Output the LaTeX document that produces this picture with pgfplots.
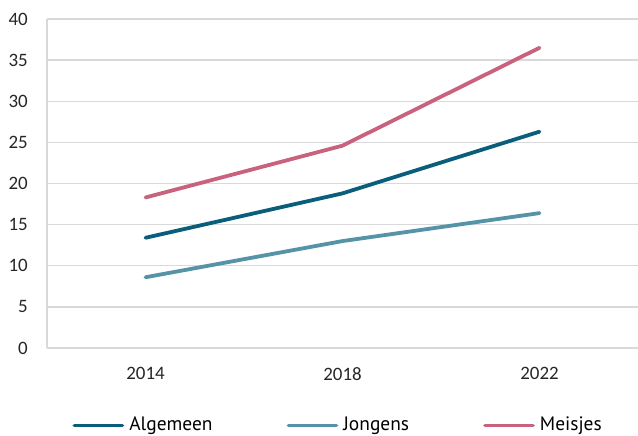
\documentclass[border=0pt]{standalone}
\usepackage{fontspec}
\setmainfont{Carlito}
\newfontfamily\legfont{PT Sans}
\usepackage{pgfplots}
\pgfplotsset{compat=1.18}
\definecolor{cAlg}{HTML}{0B5E7B}
\definecolor{cJon}{HTML}{5593A6}
\definecolor{cMei}{HTML}{C9637D}
\definecolor{gridc}{HTML}{D9D9D9}
\begin{document}
\begin{tikzpicture}
\path[use as bounding box] (-47bp,-88bp) rectangle (591bp,348bp);
\begin{axis}[
  at={(0,0)}, anchor=south west,
  scale only axis, width=591bp, height=329bp,
  xmin=-0.5, xmax=2.5, ymin=0, ymax=40,
  xtick={0,1,2}, xticklabels={2014,2018,2022},
  ytick={0,5,...,40},
  axis lines*=left,
  axis line style={draw=gridc, line width=1.4bp, -},
  ymajorgrids, grid style={draw=gridc, line width=1.4bp},
  major tick length=0pt,
  tick style={draw=none},
  /pgf/number format/assume math mode=true,
  tick label style={font=\fontsize{19}{22}\selectfont, text=black!85},
  yticklabel style={anchor=east, inner sep=0pt, xshift=-19bp},
  xticklabel style={anchor=north, inner sep=0pt, yshift=-19bp},
  legend columns=3,
  legend style={draw=none, fill=none, at={(0.4926,-0.231)}, anchor=center,
    font=\legfont\fontsize{19.5}{22}\selectfont, inner sep=0pt,
    /tikz/every odd column/.append style={column sep=3bp},
    /tikz/every even column/.append style={column sep=72bp}},
  legend cell align=left,
  legend image code/.code={\draw[#1, line cap=round] (0bp,-1.5bp) -- (48bp,-1.5bp);},
  every axis plot/.append style={line width=3.8bp, line cap=round, line join=round, mark=none},
]
\addplot[cAlg] coordinates {(0,13.4) (1,18.8) (2,26.3)};
\addlegendentry{Algemeen}
\addplot[cJon] coordinates {(0,8.6) (1,13.0) (2,16.4)};
\addlegendentry{Jongens}
\addplot[cMei] coordinates {(0,18.3) (1,24.6) (2,36.5)};
\addlegendentry{Meisjes}
\end{axis}
\end{tikzpicture}
\end{document}
